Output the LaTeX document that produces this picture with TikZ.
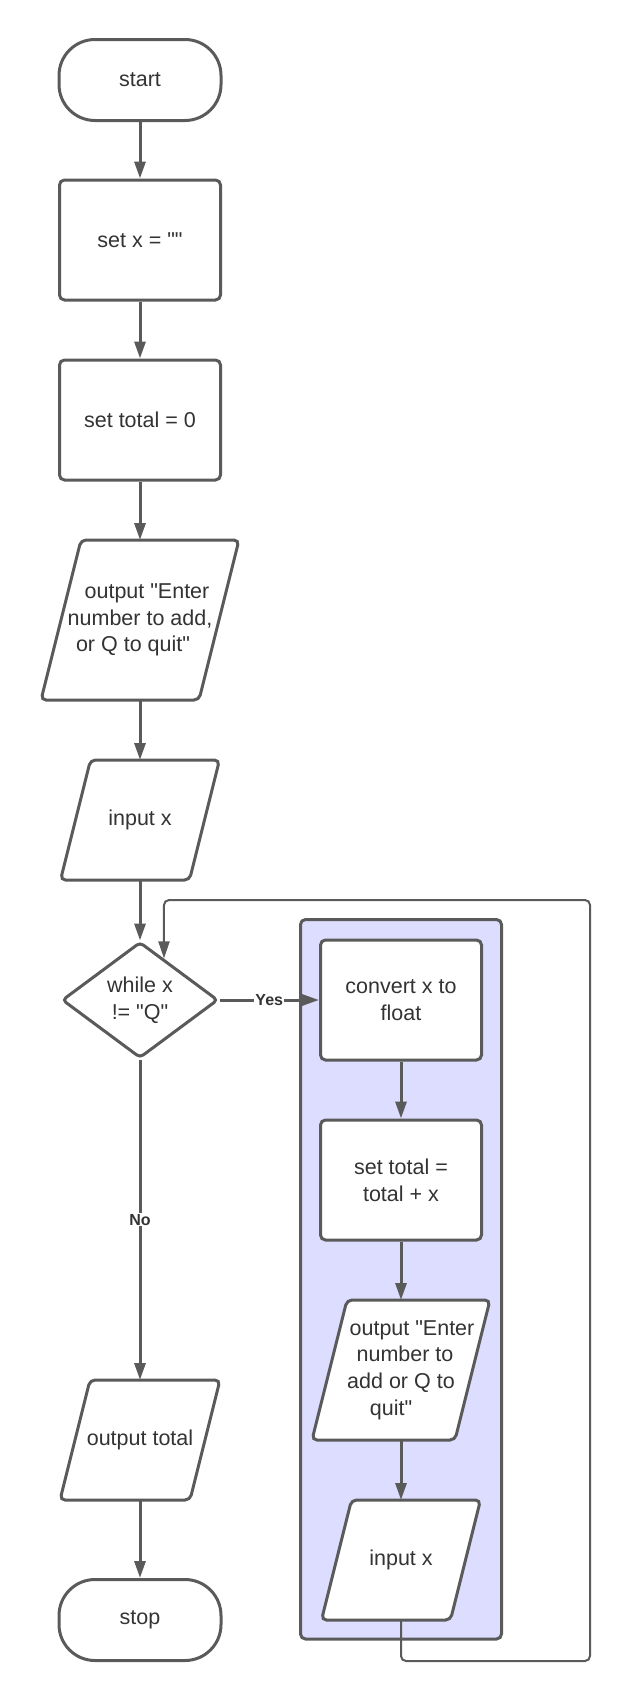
\documentclass[tikz,border=0pt]{standalone}
\usepackage{fontspec}
\setmainfont{Liberation Sans}[Ligatures=TeXOff]
\usetikzlibrary{positioning,shapes.geometric,arrows.meta,fit,backgrounds}
\definecolor{LineGray}{RGB}{90,90,90}
\definecolor{TextGray}{RGB}{51,51,51}
\definecolor{LoopBlue}{RGB}{221,221,255}
\tikzset{
	FlowText/.style={text=TextGray, font=\fontsize{21.5}{26.7}\selectfont, align=center},
	FlowBase/.style={FlowText, draw=LineGray, line width=3pt, fill=white, inner sep=2pt},
	Terminal/.style={FlowBase, rectangle, rounded corners=36pt, minimum width=162pt, minimum height=81pt},
	Process/.style={FlowBase, rectangle, rounded corners=5pt, minimum width=161pt, minimum height=120pt},
	InOut/.style={FlowText, rectangle, inner sep=0pt, outer sep=0pt, minimum width=159pt, minimum height=120pt},
	InOutLine/.style={draw=LineGray, line width=3pt, fill=white, rounded corners=5pt},
	Decision/.style={FlowBase, diamond, aspect=1.34, rounded corners=4pt, minimum width=156pt, minimum height=116pt, inner sep=0pt},
	LoopGroup/.style={draw=LineGray, line width=3pt, fill=LoopBlue, rounded corners=5pt, inner xsep=18.5pt, inner ysep=19pt},
	FlowArrow/.style={draw=LineGray, line width=3pt, -{Triangle[length=17pt,width=11pt]}},
	LoopArrow/.style={draw=LineGray, line width=2pt, rounded corners=5pt, -{Triangle[length=17pt,width=11pt]}},
	EdgeLabel/.style={fill=white, text=TextGray, font=\fontsize{16}{18}\bfseries\selectfont, inner sep=1pt}
}
\begin{document}
\begin{tikzpicture}[x=1pt,y=-1pt]
			\pgfmathsetmacro{\MainColumn}{140}
			\pgfmathsetmacro{\LoopColumn}{401}
			\useasboundingbox (0,0) rectangle (631,1703);
			\node[Terminal] (Start) at (\MainColumn,80) {start};
			\node[Process] (SetX) at (\MainColumn,240) {set x = ""};
			\node[Process] (SetTotal) at (\MainColumn,420) {set total = 0};
			\node[InOut, minimum width=198pt, minimum height=160pt] (Prompt) at (\MainColumn,620) {\hspace*{14pt}output "Enter\\number to add,\\or Q to quit"\hspace*{14pt}};
			\node[InOut] (InputX) at (\MainColumn,820) {input x};
			\node[Decision] (WhileX) at (\MainColumn,1000) {while x\\!= "Q"};
			\node[InOut, minimum width=160pt] (OutputTotal) at (\MainColumn,1440) {output total};
			\node[Terminal] (Stop) at (\MainColumn,1620) {stop};
			\node[Process] (Convert) at (\LoopColumn,1000) {convert x to\\float};
			\node[Process] (AddTotal) at (\LoopColumn,1180) {set total =\\total + x};
			\node[InOut, minimum width=178pt, minimum height=140pt] (LoopPrompt) at (\LoopColumn,1370) {\hspace*{22pt}output "Enter\\\hspace*{8pt}number to\\add or Q to\hspace*{6pt}\\quit"\hspace*{20pt}};
			\node[InOut] (LoopInputX) at (\LoopColumn,1560) {input x};
			\begin{scope}[on background layer]
				\node[LoopGroup, fit=(Convert)(LoopInputX)] (LoopBody) {};
				\foreach \Shape/\Skew in {Prompt/40, InputX/30, OutputTotal/30, LoopPrompt/35, LoopInputX/30}
					\draw[InOutLine] ([xshift=\Skew pt]\Shape.north west) -- (\Shape.north east) -- ([xshift=-\Skew pt]\Shape.south east) -- (\Shape.south west) -- cycle;
			\end{scope}
			\coordinate (LoopBottom) at (590,1661);
			\coordinate (LoopTop) at (590,900);
			\draw[FlowArrow] (Start) -- (SetX);
			\draw[FlowArrow] (SetX) -- (SetTotal);
			\draw[FlowArrow] (SetTotal) -- (Prompt);
			\draw[FlowArrow] (Prompt) -- (InputX);
			\draw[FlowArrow] (InputX) -- (WhileX);
			\draw[FlowArrow] (WhileX) -- node[EdgeLabel] {Yes} (Convert);
			\draw[FlowArrow] (WhileX) -- node[EdgeLabel] {No} (OutputTotal);
			\draw[FlowArrow] (OutputTotal) -- (Stop);
			\draw[FlowArrow] (Convert) -- (AddTotal);
			\draw[FlowArrow] (AddTotal) -- (LoopPrompt);
			\draw[FlowArrow] (LoopPrompt) -- (LoopInputX);
			\draw[LoopArrow] (LoopInputX.south) |- (LoopBottom) -- (LoopTop) -| (WhileX.60);
		\end{tikzpicture}
\end{document}
